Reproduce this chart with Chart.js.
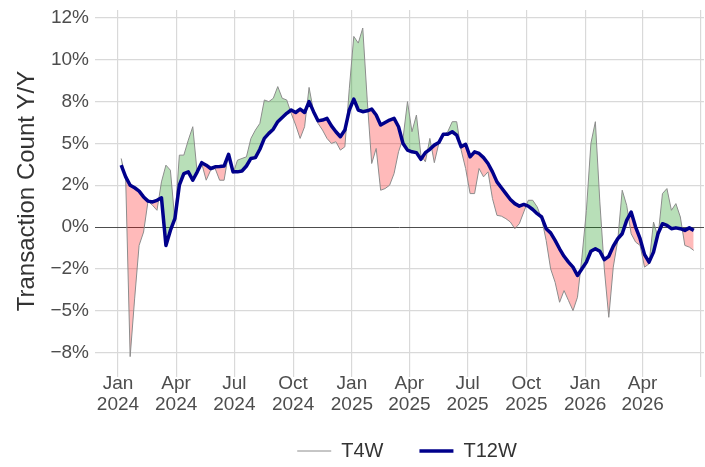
<!DOCTYPE html>
<html>
<head>
<meta charset="utf-8">
<script src="https://cdn.jsdelivr.net/npm/chart.js@4.4.1/dist/chart.umd.min.js"></script>
<style>
  html, body { margin: 0; padding: 0; background: #fff; }
  #wrap { width: 705px; height: 467px; }
</style>
</head>
<body>
<div id="wrap"><canvas id="myChart" width="705" height="467"></canvas></div>
<script>
// weekly values, first week ends 2024-01-06
const firstWeek = '2024-01-06';

const t4w = [
  4.1, 2.9, -7.75, -4.3, -1.1, -0.3, 1.55, 1.3, 1.0, 2.7,
  3.7, 3.4, 0.4, 4.3, 4.3, 5.2, 6.0, 3.2, 3.8, 2.8,
  3.4, 3.5, 2.8, 2.8, 4.4, 3.2, 4.0, 4.1, 4.2, 5.3,
  5.8, 6.2, 7.6, 7.5, 7.7, 8.4, 7.7, 7.6, 6.8, 6.1,
  5.3, 6.0, 8.35, 6.9, 6.2, 5.8, 5.3, 5.0, 5.1, 4.6,
  4.8, 8.3, 11.4, 11.0, 11.9, 7.6, 3.8, 4.7, 2.2, 2.3,
  2.5, 3.2, 4.5, 5.3, 7.5, 5.7, 6.7, 4.3, 3.9, 5.3,
  3.85, 5.0, 5.5, 5.7, 6.3, 6.3, 4.6, 3.5, 2.0, 2.0,
  3.5, 3.0, 3.3, 1.7, 0.7, 0.65, 0.5, 0.3, -0.1, 0.2,
  0.9, 1.6, 1.6, 1.2, 0.5, -0.8, -2.5, -3.3, -4.5, -3.8,
  -4.4, -5.0, -4.2, -1.8, 1.0, 5.0, 6.3, 1.5, -2.5, -5.4,
  -2.4, -0.8, 2.2, 1.3, -0.4, -0.9, -1.1, -2.4, -2.2, 0.3,
  -0.6, 2.0, 2.3, 1.0, 1.4, 0.6, -1.1, -1.2, -1.4
];

const t12w = [
  3.7, 3.0, 2.5, 2.35, 2.15, 1.8, 1.55, 1.5, 1.6, 1.75,
  -1.1, -0.2, 0.5, 2.5, 3.2, 3.3, 2.8, 3.3, 3.85, 3.7,
  3.5, 3.6, 3.62, 3.65, 4.35, 3.3, 3.3, 3.35, 3.65, 4.1,
  4.15, 4.65, 5.3, 5.6, 5.85, 6.3, 6.55, 6.8, 7.0, 6.85,
  7.05, 6.85, 7.5, 6.9, 6.35, 6.4, 6.5, 6.05, 5.7, 5.4,
  5.8, 7.0, 7.65, 7.0, 6.9, 6.95, 7.05, 6.7, 6.1, 6.25,
  6.4, 6.5, 6.0, 5.0, 4.6, 4.5, 4.45, 4.05, 4.45, 4.65,
  4.9, 5.05, 5.55, 5.55, 5.7, 5.5, 4.8, 4.95, 4.2, 4.5,
  4.4, 4.15, 3.8, 3.3, 2.7, 2.35, 2.0, 1.65, 1.4, 1.25,
  1.35, 1.25, 1.05, 0.8, 0.6, -0.1, -0.35, -0.8, -1.3, -1.75,
  -2.1, -2.4, -2.9, -2.5, -2.1, -1.45, -1.3, -1.45, -1.95, -1.75,
  -1.15, -0.7, -0.4, 0.4, 0.9, 0.0, -0.7, -1.65, -2.1, -1.5,
  -0.4, 0.2, 0.1, -0.1, -0.05, -0.1, -0.2, -0.05, -0.2
];

const xTickDates = ['2024-01-01', '2024-04-01', '2024-07-01', '2024-10-01', '2025-01-01',
  '2025-04-01', '2025-07-01', '2025-10-01', '2026-01-01', '2026-04-01', '2026-07-01'];
const xTickLabels = [['Jan', '2024'], ['Apr', '2024'], ['Jul', '2024'], ['Oct', '2024'], ['Jan', '2025'],
  ['Apr', '2025'], ['Jul', '2025'], ['Oct', '2025'], ['Jan', '2026'], ['Apr', '2026'], ''];

const yTickValues = [-7.5, -5, -2.5, 0, 2.5, 5, 7.5, 10, 12.5];
const yTickLabels = ['\u22128%', '\u22125%', '\u22122%', '0%', '2%', '5%', '8%', '10%', '12%'];

// วันนับจาก 1 ม.ค. 2024
function dayOf(s) {
    return (Date.parse(s) - Date.parse('2024-01-01')) / 86400000;
}

function toPoints(values) {
    const d0 = dayOf(firstWeek);
    return values.map(function (v, i) {
        return { x: d0 + 7 * i, y: v };
    });
}

const fontFamily = '"Liberation Sans", Arial, Helvetica, sans-serif';
const gridColor = '#d9d9d9';

// ย้ายตำแหน่ง legend ให้ตรงกับภาพต้นแบบ
const legendShift = {
    id: 'legendShift',
    afterLayout: function (chart) {
        const lg = chart.legend;
        const dx = 55;
        lg.left += dx;
        lg.right += dx;
        lg.top = 405;
        lg.bottom = 467;
    }
};

const ctx = document.getElementById('myChart').getContext('2d');
window.myChart = new Chart(ctx, {
    type: 'line',
    data: {
        datasets: [
            {
                label: 'T12W',
                data: toPoints(t12w),
                borderColor: '#00008b',
                backgroundColor: '#00008b',
                borderWidth: 3.5,
                pointRadius: 0,
                tension: 0,
                borderJoinStyle: 'round',
                fill: false
            },
            {
                label: 'T4W',
                data: toPoints(t4w),
                borderColor: '#8c8c8c',
                backgroundColor: '#8c8c8c',
                borderWidth: 1,
                pointRadius: 0,
                tension: 0,
                fill: {
                    target: 0,
                    above: 'rgba(0, 140, 0, 0.28)',
                    below: 'rgba(255, 0, 0, 0.27)'
                }
            }
        ]
    },
    plugins: [legendShift],
    options: {
        responsive: false,
        animation: false,
        devicePixelRatio: 1,
        layout: { padding: { top: 10, right: 1, left: 0, bottom: 0 } },
        scales: {
            x: {
                type: 'linear',
                min: -36,
                max: 917,
                afterBuildTicks: function (axis) {
                    axis.ticks = xTickDates.map(function (d) { return { value: dayOf(d) }; });
                },
                afterFit: function (scale) {
                    scale.height = 65;
                    scale.paddingLeft = 0;
                    scale.paddingRight = 0;
                },
                ticks: {
                    autoSkip: false,
                    maxRotation: 0,
                    padding: -3.5,
                    color: '#4d4d4d',
                    font: { family: fontFamily, size: 19, lineHeight: 1.1 },
                    callback: function (value, index) { return xTickLabels[index]; }
                },
                grid: { color: gridColor, lineWidth: 1.2, tickLength: 5 },
                border: { display: false }
            },
            y: {
                min: -8.67,
                max: 12.98,
                afterBuildTicks: function (axis) {
                    axis.ticks = yTickValues.map(function (v) { return { value: v }; });
                },
                afterFit: function (scale) {
                    scale.width = 95;
                    scale.paddingTop = 0;
                    scale.paddingBottom = 0;
                },
                ticks: {
                    padding: 6,
                    color: '#4d4d4d',
                    font: { family: fontFamily, size: 19 },
                    callback: function (value, index) { return yTickLabels[index]; }
                },
                grid: {
                    drawTicks: false,
                    color: function (c) { return c.tick && c.tick.value === 0 ? '#4d4d4d' : gridColor; },
                    lineWidth: function (c) { return c.tick && c.tick.value === 0 ? 1 : 1.2; }
                },
                border: { display: false },
                title: {
                    display: true,
                    text: 'Transaction Count Y/Y',
                    color: '#333333',
                    font: { family: fontFamily, size: 24 },
                    padding: { top: 13, bottom: 0 }
                }
            }
        },
        plugins: {
            legend: {
                display: true,
                position: 'bottom',
                maxHeight: 30,
                labels: {
                    usePointStyle: true,
                    pointStyle: 'line',
                    pointStyleWidth: 34,
                    padding: 36,
                    color: '#333333',
                    font: { family: fontFamily, size: 20 },
                    sort: function (a, b) { return b.datasetIndex - a.datasetIndex; }
                }
            },
            tooltip: { enabled: false }
        }
    }
});
</script>
</body>
</html>
